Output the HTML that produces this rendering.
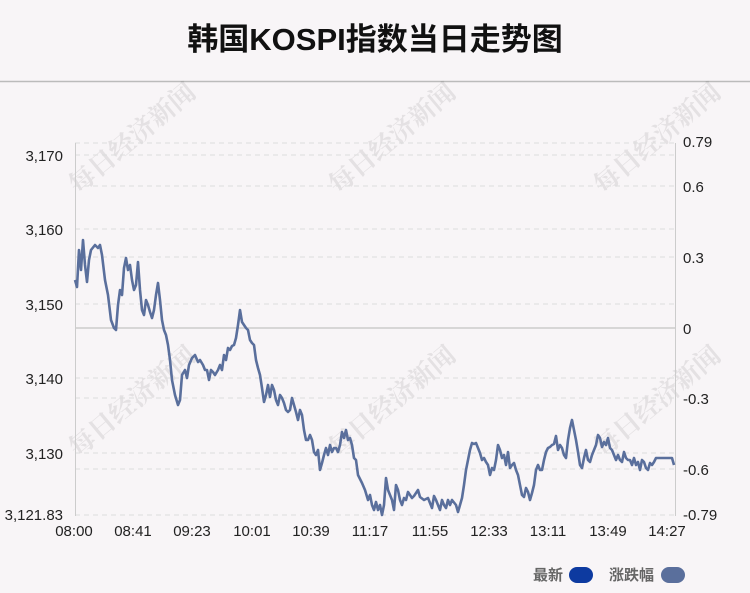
<!DOCTYPE html>
<html><head><meta charset="utf-8"><style>
body{margin:0;background:#f8f5f7;}
svg{display:block;font-family:"Liberation Sans","Noto Sans CJK SC",sans-serif;}
</style></head><body>
<svg width="750" height="593" viewBox="0 0 750 593">
<rect width="750" height="593" fill="#f8f5f7"/>
<text x="375" y="50" text-anchor="middle" font-size="31" font-weight="bold" fill="#111">韩国KOSPI指数当日走势图</text>
<line x1="0" y1="81.5" x2="750" y2="81.5" stroke="#bbb" stroke-width="1.5"/>
<g fill="#000" opacity="0.08" font-size="26" font-weight="bold" font-family="Noto Serif CJK SC, serif">
<text transform="translate(78,195) rotate(-40)">每日经济新闻</text>
<text transform="translate(338,195) rotate(-40)">每日经济新闻</text>
<text transform="translate(603,195) rotate(-40)">每日经济新闻</text>
<text transform="translate(78,458) rotate(-40)">每日经济新闻</text>
<text transform="translate(338,458) rotate(-40)">每日经济新闻</text>
<text transform="translate(603,458) rotate(-40)">每日经济新闻</text>
</g>
<g stroke="#ddd" stroke-dasharray="5,4" stroke-width="1">
<line x1="75" y1="143" x2="675" y2="143"/><line x1="75" y1="155" x2="675" y2="155"/>
<line x1="75" y1="186" x2="675" y2="186"/><line x1="75" y1="229" x2="675" y2="229"/>
<line x1="75" y1="257" x2="675" y2="257"/><line x1="75" y1="304" x2="675" y2="304"/>
<line x1="75" y1="378" x2="675" y2="378"/><line x1="75" y1="398" x2="675" y2="398"/>
<line x1="75" y1="453" x2="675" y2="453"/><line x1="75" y1="469" x2="675" y2="469"/>
<line x1="75" y1="515" x2="675" y2="515"/>
</g>
<line x1="75" y1="328" x2="675" y2="328" stroke="#ccc" stroke-width="1.5"/>
<line x1="75.5" y1="143" x2="75.5" y2="516" stroke="#ccc"/>
<line x1="675.5" y1="143" x2="675.5" y2="516" stroke="#ccc"/>
<g font-size="15" fill="#222" text-anchor="end">
<text x="63" y="161">3,170</text><text x="63" y="235">3,160</text><text x="63" y="310">3,150</text>
<text x="63" y="384">3,140</text><text x="63" y="459">3,130</text><text x="63" y="520">3,121.83</text>
</g>
<g font-size="15" fill="#222">
<text x="683" y="147">0.79</text><text x="683" y="192">0.6</text><text x="683" y="263">0.3</text>
<text x="683" y="334">0</text><text x="683" y="404">-0.3</text><text x="683" y="475">-0.6</text><text x="683" y="520">-0.79</text>
</g>
<g font-size="15" fill="#222" text-anchor="middle">
<text x="74" y="536">08:00</text><text x="133" y="536">08:41</text><text x="192" y="536">09:23</text>
<text x="252" y="536">10:01</text><text x="311" y="536">10:39</text><text x="370" y="536">11:17</text>
<text x="430" y="536">11:55</text><text x="489" y="536">12:33</text><text x="548" y="536">13:11</text>
<text x="608" y="536">13:49</text><text x="667" y="536">14:27</text>
</g>
<polyline fill="none" stroke="#5a6f9c" stroke-width="2.6" stroke-linejoin="round" points="75,280 77,287 79,250 81,270 83,240 85,265 87,282 89,260 91,250 95,245 98,248 100,245 102,255 105,280 108,295 111,320 114,328 116,330 118,305 120,290 122,295 124,268 126,258 128,270 130,265 132,280 134,290 136,285 138,262 140,290 142,310 144,315 146,300 148,305 150,312 152,318 154,310 156,295 158,283 160,300 162,320 164,330 166,335 168,345 170,360 172,380 175,395 178,405 180,400 182,375 185,370 187,378 189,365 192,358 195,355 198,362 200,360 203,365 205,370 207,370 209,380 211,370 213,372 215,375 218,370 220,365 222,370 224,355 226,360 228,348 230,350 232,346 234,345 236,338 238,325 240,310 242,322 244,325 246,328 248,330 250,340 252,343 254,345 256,360 258,368 260,375 262,388 264,402 266,395 268,385 270,397 272,385 274,390 276,400 278,405 280,395 282,398 284,403 286,410 288,412 290,410 292,398 294,405 296,412 298,420 300,410 302,415 304,430 306,440 308,440 310,435 312,440 314,452 316,455 318,450 320,470 322,463 324,455 326,448 328,455 330,445 332,452 334,448 336,448 338,452 340,445 342,432 344,438 346,430 348,440 350,438 352,445 354,458 356,460 358,475 362,483 365,490 368,500 370,495 372,505 374,510 376,502 378,510 380,505 382,515 384,505 386,478 388,490 390,495 392,500 394,510 396,485 398,490 400,500 402,505 404,498 406,500 408,492 410,495 412,498 414,496 418,490 420,497 424,500 428,498 432,508 434,496 436,500 438,505 440,510 442,500 444,505 446,508 448,500 450,505 452,500 456,505 458,512 460,505 462,498 464,485 466,470 468,460 470,450 472,443 474,444 476,443 478,448 480,453 482,460 484,458 486,462 488,465 490,475 492,468 494,470 496,460 498,445 500,450 502,458 504,455 506,465 508,452 510,468 512,465 514,463 516,470 518,475 520,485 522,495 524,497 526,488 528,492 530,500 532,493 534,485 536,470 538,465 540,470 542,470 544,460 546,452 548,448 550,447 552,445 554,444 556,436 558,450 560,445 562,448 564,455 566,458 568,440 570,428 572,420 574,430 576,440 578,452 580,465 582,468 584,458 586,450 588,460 590,462 592,455 594,450 596,445 598,435 600,438 602,447 604,442 606,445 608,438 610,448 612,450 614,455 616,460 618,455 620,460 622,462 624,452 626,458 628,460 630,460 632,465 634,458 636,465 638,462 640,470 642,460 644,462 646,468 648,470 650,463 652,465 654,462 656,458 660,458 664,458 668,458 672,458 674,465"/>
<g font-size="15" font-weight="bold" fill="#666">
<text x="533" y="580">最新</text><text x="609" y="580">涨跌幅</text>
</g>
<rect x="569" y="567" width="24" height="16" rx="8" fill="#0d3aa0"/>
<rect x="661" y="567" width="24" height="16" rx="8" fill="#5a6f9c"/>
</svg>
</body></html>
